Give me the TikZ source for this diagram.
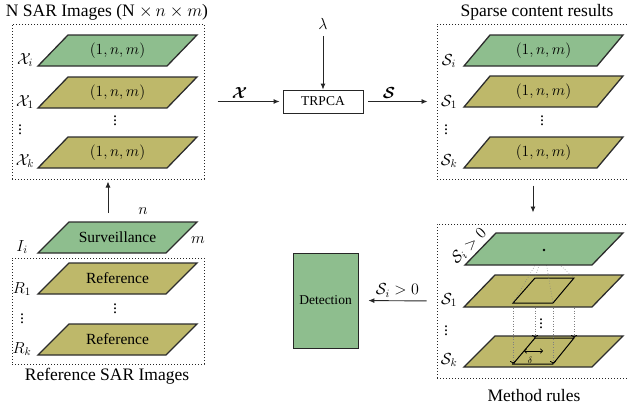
\RequirePackage{fix-cm}
\documentclass[tikz,border=0pt]{standalone}
\usepackage[no-math]{fontspec}
\setmainfont{Liberation Serif}
\usepackage{amsmath}
\usepackage{bm}
\usetikzlibrary{arrows.meta}
\definecolor{slabgreen}{RGB}{142,190,142}
\definecolor{slabolive}{RGB}{190,184,106}
\definecolor{edgegray}{RGB}{45,45,45}
\newcommand{\slab}[8]{%
  \draw[slabedge,fill=#7] (#2,#3) -- ({#2+#4},#3) -- ({#2+#4+#5},{#3-#6}) -- ({#2+#5},{#3-#6}) -- cycle;
  \node[slabtext] (#1) at ({#2+(#4+#5)/2},{#3-#6/2}) {#8};}
\begin{document}
\begin{tikzpicture}[x=1pt,y=-1pt,
  slabedge/.style={draw=edgegray,line width=1.3pt,line join=miter},
  slabtext/.style={inner sep=0pt,font=\fontsize{15.5}{18}\selectfont},
  dotbox/.style={draw=black!85,dotted,line width=1pt,inner sep=0pt},
  ttl/.style={font=\fontsize{17.5}{20}\selectfont,inner sep=0pt},
  lbl/.style={font=\fontsize{16}{18}\selectfont,inner sep=0pt},
  arr/.style={draw=black!85,line width=0.9pt,-{Latex[length=6pt,width=5pt]}},
  thin arr/.style={draw=black!50,dotted,line width=0.6pt,-{To[length=3pt,width=6pt,color=black,line width=0.8pt]}},
  smallbox/.style={draw=black!85,line width=0.8pt,font=\fontsize{13.5}{16}\selectfont}]
\useasboundingbox (0,0) rectangle (627,405);

% ---------- left top: N SAR images
\node[dotbox,minimum width=192,minimum height=155] (leftbox) at (108,101.5) {};
\node[ttl] (lefttitle) at (107,12) {N SAR Images (N $\times\, n \times m$)};
\slab{xi}{38}{66}{129}{30}{31}{slabgreen}{$(1,n,m)$}
\slab{xone}{38}{108}{129}{30}{31}{slabolive}{$(1,n,m)$}
\slab{xk}{38}{168}{129}{30}{31}{slabolive}{$(1,n,m)$}
\node[lbl] (lxi) at (25,60) {$\mathcal{X}_i$};
\node[lbl] (lx1) at (25,102) {$\mathcal{X}_1$};
\node[lbl] (lxd) at (20,127) {$\vdots$};
\node[lbl] (lxk) at (25,161) {$\mathcal{X}_k$};
\node[lbl] (mxd) at (115,118) {$\vdots$};

% ---------- surveillance + reference
\slab{surv}{38}{253}{128}{31}{31}{slabgreen}{Surveillance}
\node[lbl] (nlab) at (143,211) {$n$};
\node[lbl] (mlab) at (198,240) {$m$};
\node[lbl] (ilab) at (22,247) {$I_i$};
\coordinate (survtop) at (108,213);
\draw[arr,shorten >=2pt] (survtop) -- (leftbox.south);

\node[dotbox,minimum width=192,minimum height=106] (refbox) at (108,311) {};
\slab{refa}{38}{294}{128}{31}{31}{slabolive}{Reference}
\slab{refb}{38}{355}{128}{31}{31}{slabolive}{Reference}
\node[lbl] (lr1) at (22,289) {$R_1$};
\node[lbl] (lrd) at (22,316) {$\vdots$};
\node[lbl] (lrk) at (22,349) {$R_k$};
\node[lbl] (mrd) at (115,306) {$\vdots$};
\node[ttl] (reftitle) at (107,376) {Reference SAR Images};

% ---------- TRPCA
\node[smallbox,minimum width=80,minimum height=23,inner sep=0pt] (trpca) at (323,101.5) {TRPCA};
\node[lbl] (lam) at (323,24) {$\lambda$};
\draw[arr,shorten <=6pt] (lam) -- (trpca);
\draw[arr,shorten <=13pt,shorten >=3pt] (leftbox.east) -- (trpca.west)
  node[pos=0.45,above=3pt,lbl] {$\bm{\mathcal{X}}$};

% ---------- right top: sparse content
\node[dotbox,minimum width=193,minimum height=155] (rightbox) at (533.5,101.5) {};
\node[ttl] (righttitle) at (537,12) {Sparse content results};
\draw[arr,shorten <=5pt,shorten >=9pt] (trpca.east) -- (rightbox.west)
  node[pos=0.35,above=3pt,lbl] {$\bm{\mathcal{S}}$};
\slab{si}{464}{66}{133}{26}{31}{slabgreen}{$(1,n,m)$}
\slab{sone}{464}{107}{133}{26}{31}{slabolive}{$(1,n,m)$}
\slab{sk}{464}{168}{133}{26}{31}{slabolive}{$(1,n,m)$}
\node[lbl] (lsi) at (449,61) {$\mathcal{S}_i$};
\node[lbl] (ls1) at (449,102) {$\mathcal{S}_1$};
\node[lbl] (lsd) at (446,127) {$\vdots$};
\node[lbl] (lsk) at (449,161) {$\mathcal{S}_k$};
\node[lbl] (msd) at (542,118) {$\vdots$};

% ---------- method rules
\node[dotbox,minimum width=193,minimum height=154] (methbox) at (533.5,301) {};
\draw[arr,shorten <=6pt,shorten >=11pt] (rightbox.south -| 533,0) -- (methbox.north -| 533,0);
\node[ttl] (methtitle) at (534,396) {Method rules};
% S_k slab
\slab{mk}{464}{367}{128}{31}{31}{slabolive}{}
% vertical projections
\coordinate (ia) at (513,303); \coordinate (ib) at (553,303);
\coordinate (ic) at (574,278); \coordinate (id) at (535,278);
\coordinate (ka) at (513,364); \coordinate (kb) at (553,364);
\coordinate (kc) at (574,338); \coordinate (kd) at (535,338);
% S_1 slab
\slab{mone}{464}{307}{128}{31}{32}{slabolive}{}
\draw[black,line width=1pt] (ia) -- (ib) -- (ic) -- (id) -- cycle;
\draw[black,line width=1pt] (ka) -- (kb) -- (kc) -- (kd) -- cycle;
\draw[thin arr,shorten <=5pt] (ia) -- (ka);
\draw[thin arr,shorten <=5pt] (ib) -- (kb);
\draw[thin arr,shorten <=30pt] (ic) -- (kc);
\draw[thin arr,shorten <=30pt] (id) -- (kd);
\draw[{To[length=3pt,width=5pt]}-{To[length=3pt,width=5pt]},line width=0.7pt] (524,351) -- (543,351);
\node[font=\fontsize{9}{10}\selectfont,inner sep=0pt] (dlt) at (530,360) {$\delta$};
\node[lbl] (md) at (541,321) {$\vdots$};
% rays from the point
\coordinate (pt) at (544,250);
\foreach \c in {ia,ib,ic,id} \draw[black!50,dotted,line width=0.6pt] (pt) -- (\c);
% green slab on top
\slab{mi}{465}{265}{127}{31}{32}{slabgreen}{}
\fill (pt) circle (1.4pt);
\node[lbl,rotate=45] (lsgt) at (469,246) {$\mathcal{S}_i > 0$};
\node[lbl] (lm1) at (449,300) {$\mathcal{S}_1$};
\node[lbl] (lmd) at (446,328) {$\vdots$};
\node[lbl] (lmk) at (449,360) {$\mathcal{S}_k$};

% ---------- detection
\node[smallbox,fill=slabgreen,minimum width=65,minimum height=95,inner sep=0pt] (det) at (325.5,300.5) {Detection};
\draw[arr,shorten <=10pt,shorten >=10pt] (methbox.west) -- (det.east)
  node[midway,above=3pt,lbl] {$\mathcal{S}_i > 0$};
\end{tikzpicture}
\end{document}
